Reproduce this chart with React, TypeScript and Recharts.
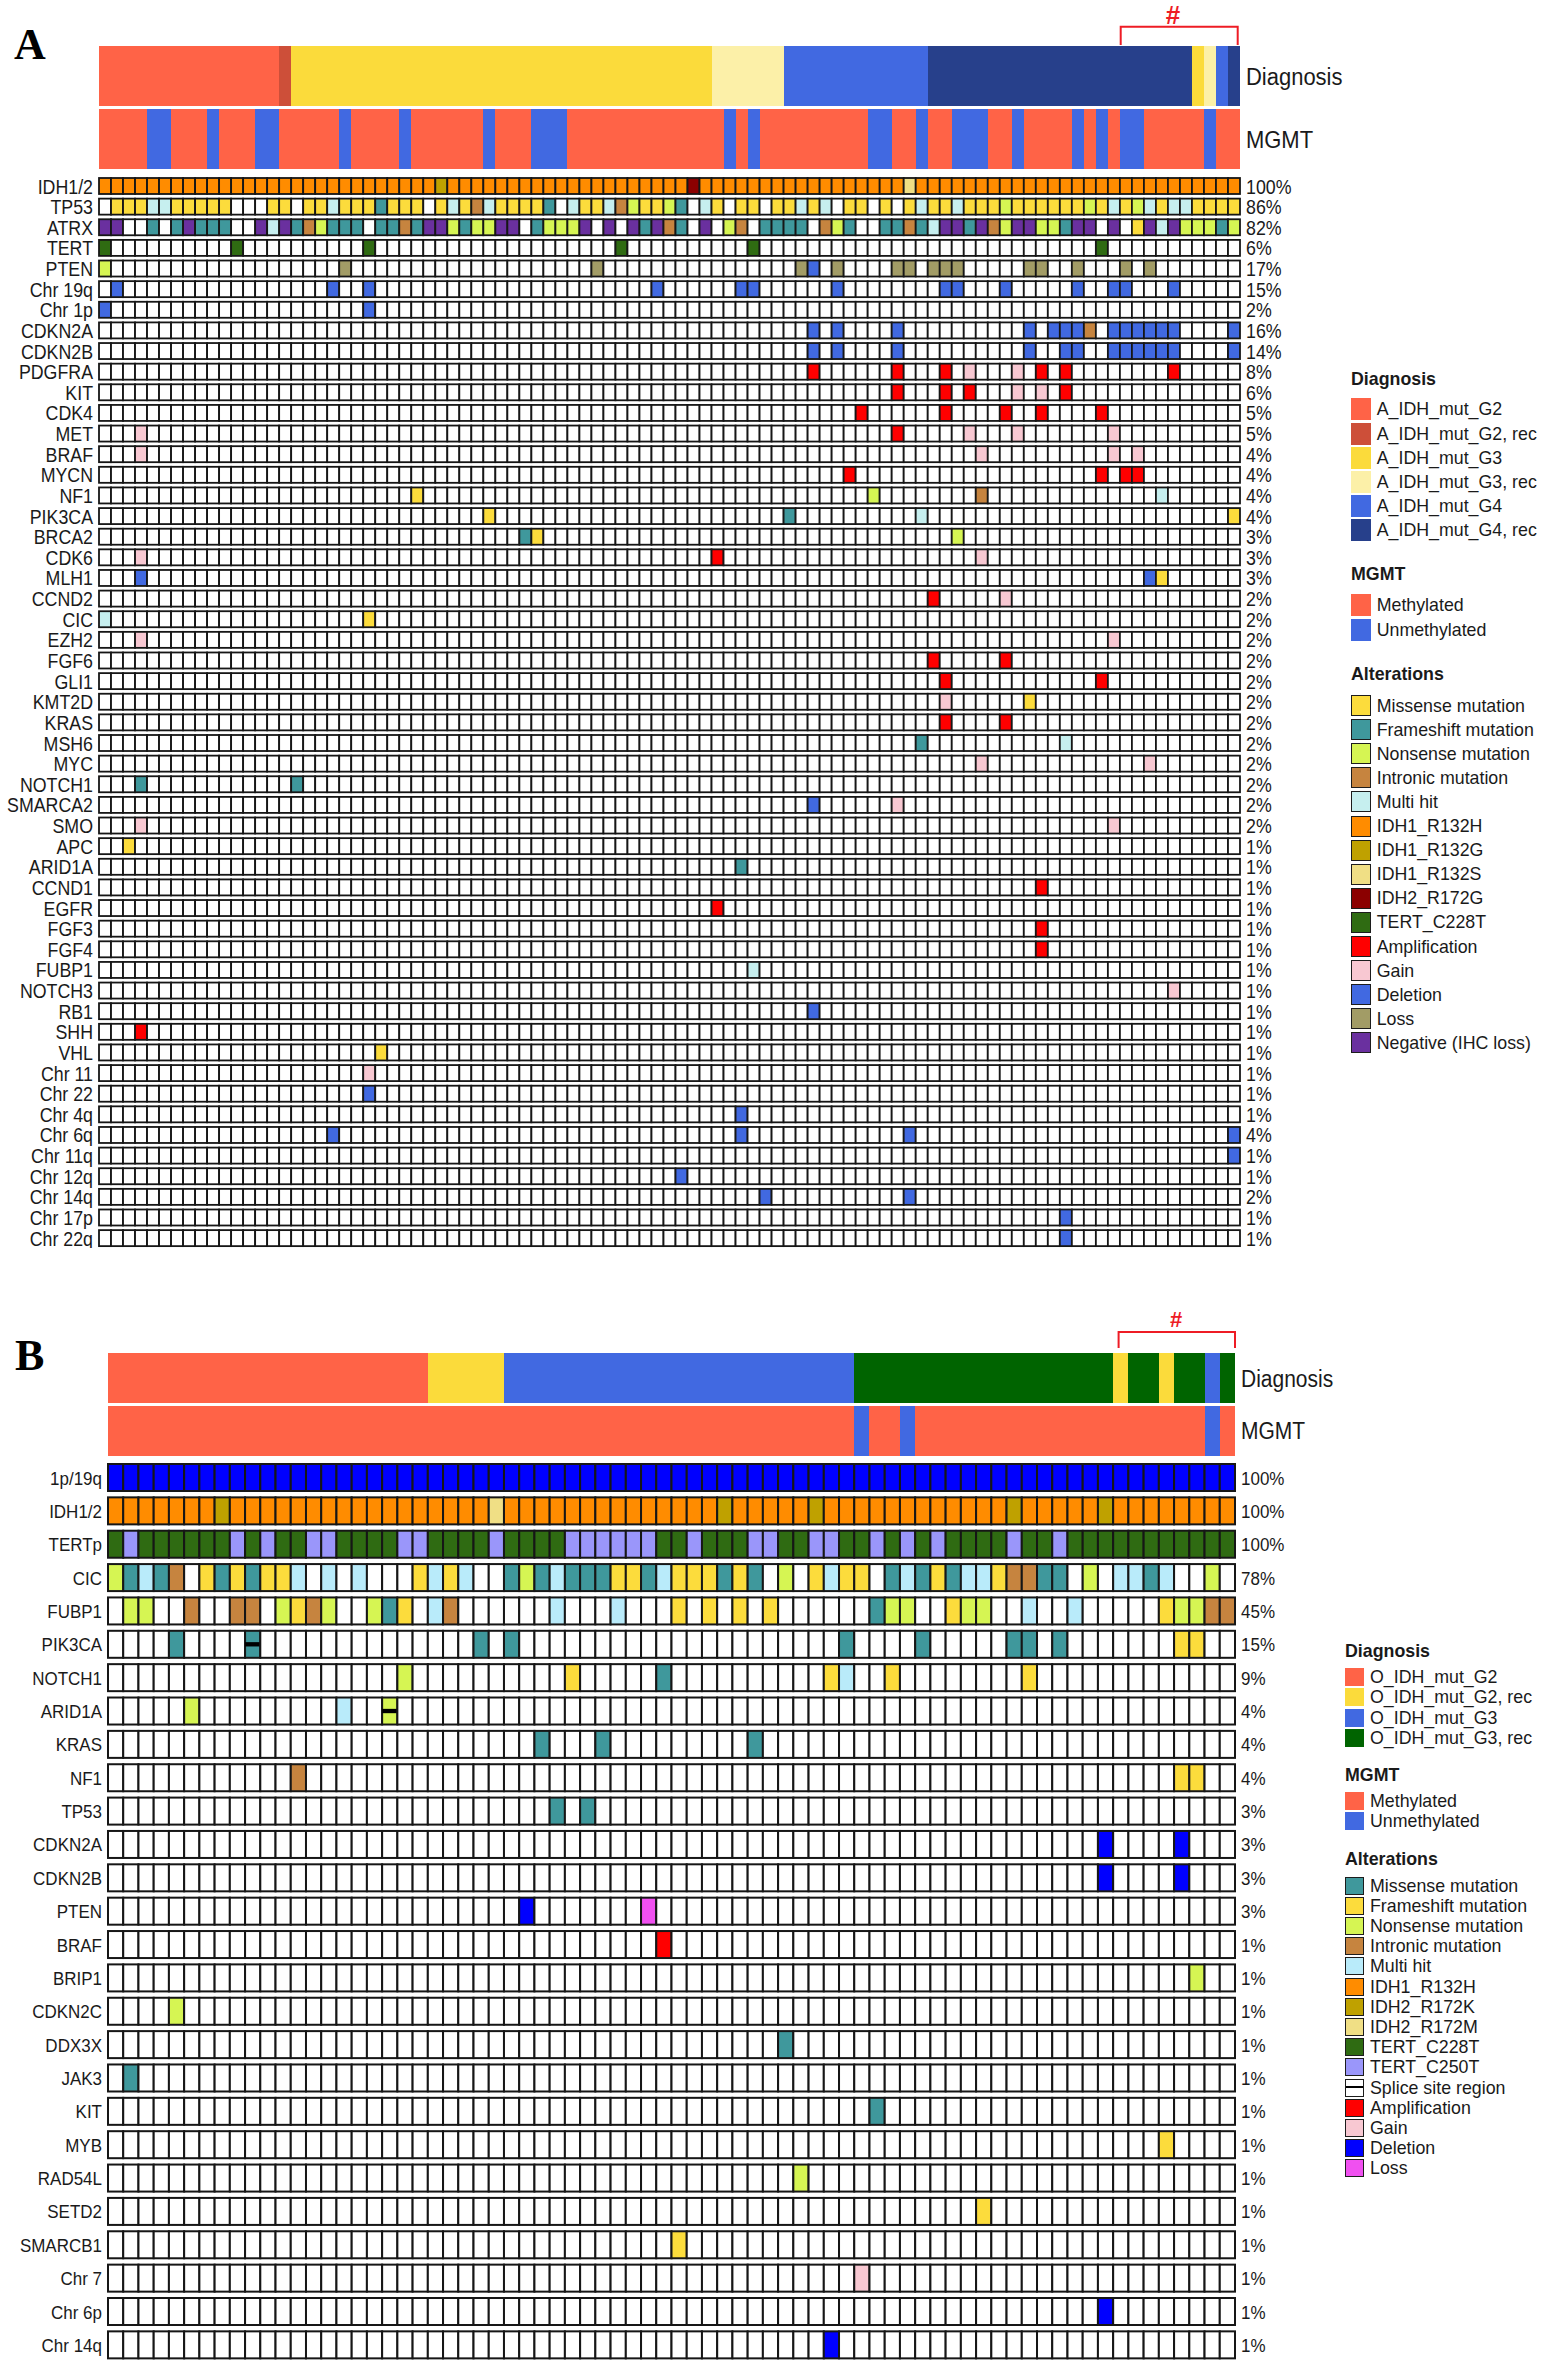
import React from 'react';
import { BarChart, Bar, XAxis, YAxis } from 'recharts';

const FONT = '"Liberation Sans", Arial, sans-serif';
const INK = '#1a1a1a';

// ---- Panel A data ----
const samplesA = 95;
const diagnosisRunsA: [string, number][] = [
  ['G2', 15], ['G2r', 1], ['G3', 35], ['G3r', 6], ['G4', 12], ['G4r', 22], ['G3', 1], ['G3r', 1], ['G4', 1], ['G4r', 1],
];
const unmethylatedA = [4, 5, 9, 13, 14, 20, 25, 32, 36, 37, 38, 52, 54, 64, 65, 68, 71, 72, 73, 76, 81, 83, 85, 86, 92];
const genesA = [
  'IDH1/2', 'TP53', 'ATRX', 'TERT', 'PTEN', 'Chr 19q', 'Chr 1p', 'CDKN2A', 'CDKN2B', 'PDGFRA', 'KIT', 'CDK4', 'MET',
  'BRAF', 'MYCN', 'NF1', 'PIK3CA', 'BRCA2', 'CDK6', 'MLH1', 'CCND2', 'CIC', 'EZH2', 'FGF6', 'GLI1', 'KMT2D', 'KRAS',
  'MSH6', 'MYC', 'NOTCH1', 'SMARCA2', 'SMO', 'APC', 'ARID1A', 'CCND1', 'EGFR', 'FGF3', 'FGF4', 'FUBP1', 'NOTCH3', 'RB1',
  'SHH', 'VHL', 'Chr 11', 'Chr 22', 'Chr 4q', 'Chr 6q', 'Chr 11q', 'Chr 12q', 'Chr 14q', 'Chr 17p', 'Chr 22q',
];
const pctA = [
  '100%', '86%', '82%', '6%', '17%', '15%', '2%', '16%', '14%', '8%', '6%', '5%', '5%', '4%', '4%', '4%', '4%', '3%', '3%',
  '3%', '2%', '2%', '2%', '2%', '2%', '2%', '2%', '2%', '2%', '2%', '2%', '2%', '1%', '1%', '1%', '1%', '1%', '1%', '1%',
  '1%', '1%', '1%', '1%', '1%', '1%', '1%', '4%', '1%', '1%', '2%', '1%', '1%',
];
// either a full string (one letter per sample) or "code+sample" tokens
const marksA = [
  'OOOOOOOOOO OOOOOOOOOO OOOOOOOOGO OOOOOOOOOO OOOOOOOOOR OOOOOOOOOO OOOOOOOSOO OOOOOOOOOO OOOOOOOOOO OOOOO',
  '.MMMHHMMMM M...MM.MMH MMMFMMM.MH MIHMMMMF.H MMHINMMNF. HM.MM.MMHM H.MM.M.MHM MHMMMNMMMM MMNMHMNHMH HMMMM',
  'XX..F.FXFF F..XHXFINF FF.FFIFXXN FNNXX.FNNN X.X.XFXIF. X.NI.FFFF. INF..FFIFH XXFXINXXNN FXX.X.MXHX NNNFN',
  'T0 T11 T22 T43 T54 T83',
  'N0 L20 L41 L58 D59 L61 L66 L67 L69 L70 L71 L77 L78 L81 L85 L87',
  'D1 D19 D22 D46 D53 D54 D61 D70 D71 D75 D81 D84 D85 D89',
  'D0 D22',
  'D59 D61 D66 D77 D79 D80 D81 I82 D84 D85 D86 D87 D88 D89 D94',
  'D59 D61 D66 D77 D80 D81 D84 D85 D86 D87 D88 D89 D94',
  'A59 A66 A70 g72 g76 A78 A80 A89',
  'A66 A70 A72 g76 g78 A80',
  'A63 A70 A75 A78 A83',
  'g3 A66 g72 g76 g84',
  'g3 g73 g84 g86',
  'A62 A83 A85 A86',
  'M26 N64 I73 H88',
  'M32 F57 H68 M94',
  'F35 M36 N71',
  'g3 A51 g73',
  'D3 D87 M88',
  'A69 g75',
  'H0 M22',
  'g3 g84',
  'A69 A75',
  'A70 A83',
  'g70 M77',
  'A70 A75',
  'F68 H80',
  'g73 g87',
  'F3 F16',
  'D59 g66',
  'g3 g84',
  'M2',
  'F53',
  'A78',
  'A51',
  'A78',
  'A78',
  'H54',
  'g89',
  'D59',
  'A3',
  'M23',
  'g22',
  'D22',
  'D53',
  'D19 D53 D67 D94',
  'D94',
  'D48',
  'D55 D67',
  'D80',
  'D80',
];

// ---- Panel B data ----
const samplesB = 74;
const diagnosisRunsB: [string, number][] = [
  ['G2', 21], ['G2r', 5], ['G3', 23], ['G3r', 17], ['G2r', 1], ['G3r', 2], ['G2r', 1], ['G3r', 2], ['G3', 1], ['G3r', 1],
];
const unmethylatedB = [49, 52, 72];
const genesB = [
  '1p/19q', 'IDH1/2', 'TERTp', 'CIC', 'FUBP1', 'PIK3CA', 'NOTCH1', 'ARID1A', 'KRAS', 'NF1', 'TP53', 'CDKN2A', 'CDKN2B',
  'PTEN', 'BRAF', 'BRIP1', 'CDKN2C', 'DDX3X', 'JAK3', 'KIT', 'MYB', 'RAD54L', 'SETD2', 'SMARCB1', 'Chr 7', 'Chr 6p', 'Chr 14q',
];
const pctB = [
  '100%', '100%', '100%', '78%', '45%', '15%', '9%', '4%', '4%', '4%', '3%', '3%', '3%', '3%', '1%', '1%', '1%', '1%', '1%',
  '1%', '1%', '1%', '1%', '1%', '1%', '1%', '1%',
];
const marksB = [
  'DDDDDDDDDD DDDDDDDDDD DDDDDDDDDD DDDDDDDDDD DDDDDDDDDD DDDDDDDDDD DDDDDDDDDD DDDD',
  'OOOOOOOGOO OOOOOOOOOO OOOOOSOOOO OOOOOOOOOO GOOOOOGOOO OOOOOOOOOG OOOOOGOOOO OOOO',
  'TPTTTTTTPT PTTPPTTTTP PTTTTPTTTT PPPPPPTTPT TTPPTTPPTT PTPTPTTTTP TTPTTTTTTT TTTT',
  'NMHMI.FMFM FFH.H.H... FHFH..MNMH MMMFFMHFFF MFM.N.FHFF .MHMFMHHFI IMM.N.HHMH ..N.',
  'N1 N2 I5 I8 I9 N11 F12 I13 N14 N17 M18 F19 H21 I22 H29 H33 F37 F39 F41 F43 M50 N51 N52 F55 N56 N57 H60 H63 F69 N70 N71 I72 I73',
  'M4 m9 M24 M26 M48 M53 M59 M60 M62 F70 F71',
  'N19 F30 M36 F47 H48 F51 F60',
  'N5 H15 n18',
  'M28 M32 M42',
  'I12 F70 F71',
  'M29 M31',
  'D65 D70',
  'D65 D70',
  'D27 L35',
  'A36',
  'N71',
  'N4',
  'M44',
  'M1',
  'M50',
  'F69',
  'N45',
  'F57',
  'F37',
  'g49',
  'D65',
  'D47',
];

// ---- Colours and legends ----
const diagnosisColors: Record<string, string> = {
  G2: '#FF6347', G2r: '#CD4F39', G3: '#FBDB3B', G3r: '#FCF0A8', G4: '#4169E1', G4r: '#27408B',
};
const diagnosisColorsB: Record<string, string> = {
  G2: '#FF6347', G2r: '#FBDB3B', G3: '#4169E1', G3r: '#006400',
};
const mgmtColors: Record<string, string> = { m: '#FF6347', u: '#4169E1' };
const paletteA: Record<string, string> = {
  M: '#FCDC3C', F: '#3F989C', N: '#D6F553', I: '#C6843F', H: '#C6EFEF', O: '#FF8C00', G: '#BFA100', S: '#F0DF85',
  R: '#8B0000', T: '#2F6B12', A: '#FF0000', g: '#F8C8D2', D: '#4169E1', L: '#A29C66', X: '#6A309F',
};
const paletteB: Record<string, string> = {
  M: '#3F989C', F: '#FCDC3C', N: '#D6F553', I: '#C6843F', H: '#B9EBFA', O: '#FF8C00', G: '#BFA100', S: '#F0DF85',
  T: '#2F6B12', P: '#9A96FA', A: '#FF0000', g: '#F8C8D2', D: '#0000FF', L: '#F050F0',
};
const spliceBase: Record<string, string> = { m: 'M', n: 'N' };

const diagnosisLegendA: [string, string][] = [
  ['A_IDH_mut_G2', 'G2'], ['A_IDH_mut_G2, rec', 'G2r'], ['A_IDH_mut_G3', 'G3'], ['A_IDH_mut_G3, rec', 'G3r'],
  ['A_IDH_mut_G4', 'G4'], ['A_IDH_mut_G4, rec', 'G4r'],
];
const diagnosisLegendB: [string, string][] = [
  ['O_IDH_mut_G2', 'G2'], ['O_IDH_mut_G2, rec', 'G2r'], ['O_IDH_mut_G3', 'G3'], ['O_IDH_mut_G3, rec', 'G3r'],
];
const mgmtLegend: [string, string][] = [['Methylated', 'm'], ['Unmethylated', 'u']];
const alterationLegendA: [string, string][] = [
  ['Missense mutation', 'M'], ['Frameshift mutation', 'F'], ['Nonsense mutation', 'N'], ['Intronic mutation', 'I'],
  ['Multi hit', 'H'], ['IDH1_R132H', 'O'], ['IDH1_R132G', 'G'], ['IDH1_R132S', 'S'], ['IDH2_R172G', 'R'],
  ['TERT_C228T', 'T'], ['Amplification', 'A'], ['Gain', 'g'], ['Deletion', 'D'], ['Loss', 'L'], ['Negative (IHC loss)', 'X'],
];
const alterationLegendB: [string, string][] = [
  ['Missense mutation', 'M'], ['Frameshift mutation', 'F'], ['Nonsense mutation', 'N'], ['Intronic mutation', 'I'],
  ['Multi hit', 'H'], ['IDH1_R132H', 'O'], ['IDH2_R172K', 'G'], ['IDH2_R172M', 'S'], ['TERT_C228T', 'T'],
  ['TERT_C250T', 'P'], ['Splice site region', '-'], ['Amplification', 'A'], ['Gain', 'g'], ['Deletion', 'D'], ['Loss', 'L'],
];

// ---- Helpers ----
const parseMarks = (marks: string, n: number): string[] => {
  const clean = marks.replace(/\s/g, '');
  if (clean.length === n && !/\d/.test(clean)) return clean.split('');
  const row = Array(n).fill('.');
  marks.split(' ').filter(Boolean).forEach((t) => { row[Number(t.slice(1))] = t[0]; });
  return row;
};

const expandRuns = (runs: [string, number][]): string[] =>
  runs.flatMap(([code, count]) => Array(count).fill(code));

const buildRow = (name: string, pct: string, codes: string[]) => {
  const row: any = { name, pct, codes };
  codes.forEach((_, i) => { row[`s${i}`] = 1; });
  return row;
};

const sampleKeys = (n: number) => Array.from({ length: n }, (_, i) => i);

const Tick = ({ x, y, payload, anchor, size }: any) => (
  <text
    transform={`translate(${x},${y}) scale(1,1.12)`}
    textAnchor={anchor}
    dy="0.36em"
    fontFamily={FONT}
    fontSize={size}
    fill={INK}
  >
    {payload.value}
  </text>
);

function AlterationCell({ x, y, width, height, code, palette, lineWidth }: any) {
  const base = spliceBase[code] || code;
  const fill = palette[base] || '#ffffff';
  return (
    <g>
      <rect x={x} y={y} width={width} height={height} fill={fill} stroke="#161616" strokeWidth={lineWidth} />
      {spliceBase[code] && <rect x={x} y={y + height * 0.42} width={width} height={height * 0.16} fill="#000" />}
    </g>
  );
}

function OncoGrid({ left, top, plotLeft, plotWidth, pitch, cellHeight, rows, n, palette, labelSize, lineWidth }: any) {
  const rightWidth = 60;
  return (
    <div style={{ position: 'absolute', left, top }}>
      <BarChart
        width={plotLeft + plotWidth + rightWidth}
        height={pitch * rows.length}
        data={rows}
        layout="vertical"
        barSize={cellHeight}
        margin={{ top: 0, right: 0, bottom: 0, left: 0 }}
      >
        <XAxis type="number" domain={[0, n]} hide />
        <YAxis
          yAxisId="gene"
          type="category"
          dataKey="name"
          width={plotLeft}
          interval={0}
          axisLine={false}
          tickLine={false}
          tick={<Tick anchor="end" size={labelSize} />}
          tickSize={0}
          tickMargin={6}
        />
        <YAxis
          yAxisId="pct"
          orientation="right"
          type="category"
          dataKey="pct"
          width={rightWidth}
          interval={0}
          axisLine={false}
          tickLine={false}
          tick={<Tick anchor="start" size={labelSize} />}
          tickSize={0}
          tickMargin={6}
        />
        {sampleKeys(n).map((i) => (
          <Bar
            key={i}
            yAxisId="gene"
            dataKey={`s${i}`}
            stackId="samples"
            isAnimationActive={false}
            shape={(p: any) => (
              <AlterationCell
                x={p.x}
                y={p.y}
                width={p.width}
                height={p.height}
                code={p.payload.codes[i]}
                palette={palette}
                lineWidth={lineWidth}
              />
            )}
          />
        ))}
      </BarChart>
    </div>
  );
}

function TrackChart({ left, top, plotWidth, pitch, barHeight, rows, n, colors, labelSize }: any) {
  const rightWidth = 120;
  return (
    <div style={{ position: 'absolute', left, top }}>
      <BarChart
        width={plotWidth + rightWidth}
        height={pitch * rows.length}
        data={rows}
        layout="vertical"
        barSize={barHeight}
        margin={{ top: 0, right: 0, bottom: 0, left: 0 }}
      >
        <XAxis type="number" domain={[0, n]} hide />
        <YAxis yAxisId="left" type="category" dataKey="name" hide />
        <YAxis
          yAxisId="label"
          orientation="right"
          type="category"
          dataKey="name"
          width={rightWidth}
          interval={0}
          axisLine={false}
          tickLine={false}
          tick={<Tick anchor="start" size={labelSize} />}
          tickSize={0}
          tickMargin={6}
        />
        {sampleKeys(n).map((i) => (
          <Bar
            key={i}
            yAxisId="left"
            dataKey={`s${i}`}
            stackId="samples"
            isAnimationActive={false}
            shape={(p: any) => {
              const fill = p.payload.name === 'MGMT' ? mgmtColors[p.payload.codes[i]] : colors[p.payload.codes[i]];
              return <rect x={p.x} y={p.y} width={p.width} height={p.height} fill={fill} shapeRendering="crispEdges" />;
            }}
          />
        ))}
      </BarChart>
    </div>
  );
}

function LegendBlock({ title, items, colors, x, textX, titleY, firstY, step, swatchW, swatchH, outlined }: any) {
  const textStyle: any = {
    position: 'absolute', fontFamily: FONT, fontSize: 17.8, lineHeight: '20px', color: INK, whiteSpace: 'nowrap',
  };
  return (
    <>
      <div style={{ ...textStyle, left: x, top: titleY - 10, fontWeight: 700 }}>{title}</div>
      {items.map(([label, code]: [string, string], i: number) => {
        const cy = firstY + i * step;
        return (
          <React.Fragment key={label}>
            <div
              style={{
                position: 'absolute', left: x, top: cy - swatchH / 2, width: swatchW, height: swatchH,
                boxSizing: 'border-box', background: colors[code] || '#fff',
                border: outlined ? '1.5px solid #1c1c1c' : 'none',
              }}
            >
              {code === '-' && <div style={{ marginTop: swatchH / 2 - 2.5, height: 2, background: '#000' }} />}
            </div>
            <div style={{ ...textStyle, left: textX, top: cy - 10 }}>{label}</div>
          </React.Fragment>
        );
      })}
    </>
  );
}

const trackRows = (runs: [string, number][], unmethylated: number[], n: number) => [
  buildRow('Diagnosis', '', expandRuns(runs)),
  buildRow('MGMT', '', sampleKeys(n).map((i) => (unmethylated.includes(i) ? 'u' : 'm'))),
];
const gridRows = (genes: string[], pct: string[], marks: string[], n: number) =>
  genes.map((g, i) => buildRow(g, pct[i], parseMarks(marks[i], n)));

export default function App() {
  return (
    <div style={{ position: 'absolute', left: 0, top: 0, width: 1541, height: 2362, overflow: 'hidden', background: '#fff' }}>
      <TrackChart
        left={99}
        top={45.4}
        plotWidth={1141}
        pitch={62.6}
        barHeight={60}
        rows={trackRows(diagnosisRunsA, unmethylatedA, samplesA)}
        n={samplesA}
        colors={diagnosisColors}
        labelSize={22}
      />
      <OncoGrid
        left={0}
        top={175.7}
        plotLeft={99}
        plotWidth={1141}
        pitch={20.63}
        cellHeight={16}
        rows={gridRows(genesA, pctA, marksA, samplesA)}
        n={samplesA}
        palette={paletteA}
        labelSize={17.8}
        lineWidth={1.8}
      />
      <TrackChart
        left={108}
        top={1351.7}
        plotWidth={1127}
        pitch={52.5}
        barHeight={50}
        rows={trackRows(diagnosisRunsB, unmethylatedB, samplesB)}
        n={samplesB}
        colors={diagnosisColorsB}
        labelSize={21}
      />
      <OncoGrid
        left={0}
        top={1460.5}
        plotLeft={108}
        plotWidth={1127}
        pitch={33.36}
        cellHeight={27}
        rows={gridRows(genesB, pctB, marksB, samplesB)}
        n={samplesB}
        palette={paletteB}
        labelSize={17}
        lineWidth={2}
      />

      <LegendBlock title="Diagnosis" items={diagnosisLegendA} colors={diagnosisColors} x={1351} textX={1376.7} titleY={378.5} firstY={409.3} step={24.2} swatchW={19.7} swatchH={22} />
      <LegendBlock title="MGMT" items={mgmtLegend} colors={mgmtColors} x={1351} textX={1376.7} titleY={573.6} firstY={605.3} step={24.2} swatchW={19.7} swatchH={22} />
      <LegendBlock title="Alterations" items={alterationLegendA} colors={paletteA} x={1351} textX={1376.7} titleY={674} firstY={705.5} step={24.1} swatchW={19.7} swatchH={21} outlined />

      <LegendBlock title="Diagnosis" items={diagnosisLegendB} colors={diagnosisColorsB} x={1345} textX={1370} titleY={1651} firstY={1677} step={20.3} swatchW={19} swatchH={18} />
      <LegendBlock title="MGMT" items={mgmtLegend} colors={mgmtColors} x={1345} textX={1370} titleY={1775} firstY={1801} step={20.3} swatchW={19} swatchH={18} />
      <LegendBlock title="Alterations" items={alterationLegendB} colors={paletteB} x={1345} textX={1370} titleY={1859} firstY={1885.5} step={20.2} swatchW={19} swatchH={18} outlined />

      <svg width={1541} height={2362} style={{ position: 'absolute', left: 0, top: 0, pointerEvents: 'none' }}>
        <text x={14} y={59} fontFamily='"Liberation Serif", serif' fontWeight={700} fontSize={44} fill="#000">A</text>
        <text x={15} y={1370} fontFamily='"Liberation Serif", serif' fontWeight={700} fontSize={44} fill="#000">B</text>
        <path d="M1120.7 45 V26.7 H1237.7 V45" fill="none" stroke="#EE1C25" strokeWidth={2} />
        <text x={1173} y={24} textAnchor="middle" fontFamily={FONT} fontWeight={700} fontSize={26} fill="#EE1C25">#</text>
        <path d="M1118.6 1348 V1332 H1235 V1348" fill="none" stroke="#EE1C25" strokeWidth={2} />
        <text x={1176} y={1327} textAnchor="middle" fontFamily={FONT} fontWeight={700} fontSize={22} fill="#EE1C25">#</text>
      </svg>
    </div>
  );
}
